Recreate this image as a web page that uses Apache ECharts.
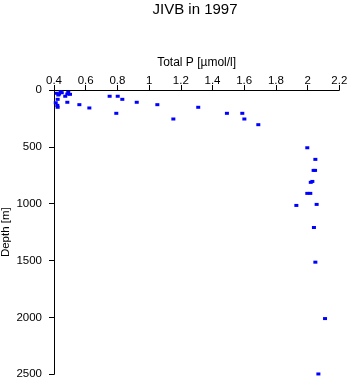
<!DOCTYPE html>
<html>
<head>
<meta charset="utf-8">
<script src="https://cdn.jsdelivr.net/npm/echarts@6/dist/echarts.min.js"></script>
<style>
  html, body { margin: 0; padding: 0; background: #fff; }
  #chart { width: 350px; height: 384px; }
</style>
</head>
<body>
<div id="chart"></div>
<script>
// Total phosphorus profile, station JIVB, 1997
const totalP = [
  0.417, 0.432, 0.442, 0.449, 0.427, 0.490, 0.484, 0.501, 0.471, 0.423,
  0.411, 0.484, 0.421, 0.423, 0.560, 0.623, 0.751, 0.802, 0.831, 0.793,
  0.922, 1.052, 1.153, 1.310, 1.491, 1.588, 1.601, 1.689, 1.998, 2.049,
  2.038, 2.047, 2.030, 2.020, 1.998, 2.017, 1.929, 2.057, 2.040, 2.049,
  2.110, 2.068
];
const depth = [
  29, 35, 15, 24, 44, 20, 35, 38, 55, 82,
  112, 108, 135, 152, 129, 158, 55, 55, 82, 205,
  108, 129, 255, 152, 205, 205, 255, 305, 508, 610,
  707, 707, 804, 812, 909, 909, 1015, 1006, 1209, 1514,
  2010, 2497
];
const xTicks = { min: 0.4, max: 2.2, step: 0.2 };
const yTicks = { min: 0, max: 2500, step: 500 };

const points = totalP.map((v, i) => [v, depth[i]]);
const font = 'Liberation Sans, Arial, sans-serif';

const chart = echarts.init(document.getElementById('chart'), null, { renderer: 'canvas' });
chart.setOption({
  animation: false,
  backgroundColor: '#ffffff',
  title: {
    text: 'JIVB in 1997',
    left: 190, top: -3,
    textAlign: 'center',
    textStyle: { fontFamily: font, fontSize: 15, fontWeight: 'normal', color: '#000' }
  },
  grid: {
    left: 54, top: 90, right: 10.7, bottom: 9.7,
    containLabel: false,
    outerBoundsMode: 'none'
  },
  xAxis: {
    type: 'value',
    position: 'top',
    min: xTicks.min, max: xTicks.max, interval: xTicks.step,
    name: 'Total P [µmol/l]',
    nameLocation: 'middle',
    nameGap: 21,
    nameTextStyle: { fontFamily: font, fontSize: 12, color: '#000' },
    axisLine: { show: true, onZero: false, lineStyle: { color: '#000', width: 1 } },
    axisTick: { show: true, inside: false, length: 5, lineStyle: { color: '#000' } },
    axisLabel: { fontFamily: font, fontSize: 11.5, color: '#000', margin: 3 },
    splitLine: { show: false }
  },
  yAxis: {
    type: 'value',
    inverse: true,
    min: yTicks.min, max: yTicks.max, interval: yTicks.step,
    name: 'Depth [m]',
    nameLocation: 'middle',
    nameGap: 42,
    nameRotate: 90,
    nameMoveOverlap: false,
    nameTextStyle: { fontFamily: font, fontSize: 11.5, color: '#000' },
    axisLine: { show: true, onZero: false, lineStyle: { color: '#000', width: 1 } },
    axisTick: { show: true, inside: false, length: 5, lineStyle: { color: '#000' } },
    axisLabel: {
      fontFamily: font, fontSize: 11.5, color: '#000', margin: 12,
      formatter: (v) => String(v)
    },
    splitLine: { show: false }
  },
  series: [{
    type: 'scatter',
    data: points,
    symbol: 'rect',
    symbolSize: [4, 3],
    itemStyle: { color: '#0000ff', opacity: 1 }
  }]
});
</script>
</body>
</html>
